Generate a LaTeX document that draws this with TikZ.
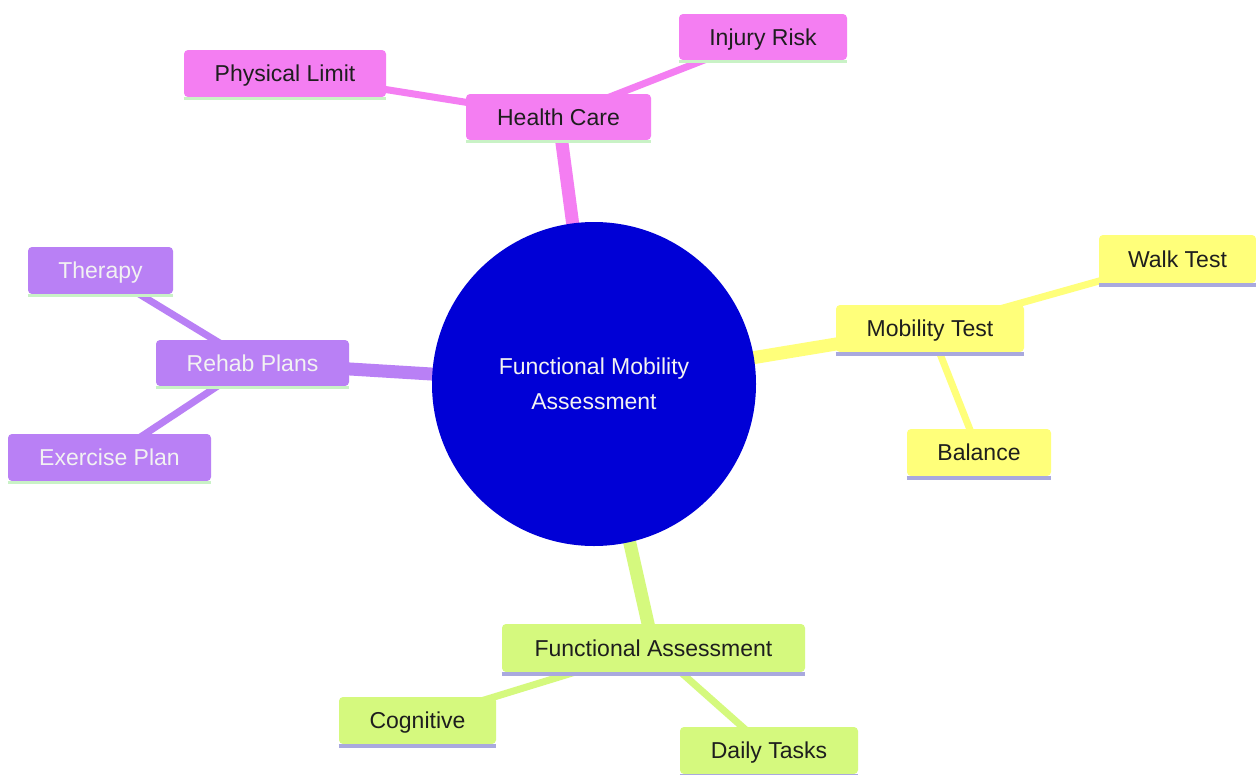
\documentclass[tikz,border=0pt]{standalone}
\usepackage{fontspec}
\setmainfont{Liberation Sans}
\definecolor{cpink}{HTML}{F47EF2}
\definecolor{cpurple}{HTML}{B980F5}
\definecolor{cyellow}{HTML}{FFFF7A}
\definecolor{cgreen}{HTML}{D5F97E}
\definecolor{croot}{HTML}{0000D6}
\definecolor{ulgreen}{HTML}{C9F2C6}
\definecolor{ulpurple}{HTML}{A9A9DE}
\definecolor{darktext}{HTML}{1E1E1E}
\definecolor{lighttext}{HTML}{F2F2F2}
\begin{document}
\begin{tikzpicture}[x=1pt,y=-1pt,
  box/.style={rectangle, rounded corners=4pt, inner sep=0pt, minimum height=47pt,
    text height=21.8pt, text depth=5pt,
    font=\fontsize{23}{28}\selectfont},
  pinkbox/.style={box, fill=cpink, text=darktext},
  purplebox/.style={box, fill=cpurple, text=lighttext},
  yellowbox/.style={box, fill=cyellow, text=darktext},
  greenbox/.style={box, fill=cgreen, text=darktext},
  mainedge/.style={line width=13pt},
  subedge/.style={line width=7pt},
  ulg/.style={draw=ulgreen, line width=3pt},
  ulp/.style={draw=ulpurple, line width=4pt},
]
\useasboundingbox (0,0) rectangle (1256,774);
\fill[white] (0,0) rectangle (1256,774);

% node centres
\coordinate (root) at (594,384);
\coordinate (chc) at (558.5,117);
\coordinate (cpl) at (285,73.5);
\coordinate (cir) at (763,37);
\coordinate (crp) at (252.5,363);
\coordinate (cth) at (100.5,270.5);
\coordinate (cep) at (109.5,457.5);
\coordinate (cmt) at (930,328.5);
\coordinate (cwt) at (1177.5,259);
\coordinate (cba) at (979,452.5);
\coordinate (cfa) at (653.5,648);
\coordinate (cco) at (417.5,720.5);
\coordinate (cdt) at (769,750.5);

% edges
\draw[mainedge, cpink] (root) -- (chc);
\draw[mainedge, cpurple] (root) -- (crp);
\draw[mainedge, cyellow] (root) -- (cmt);
\draw[mainedge, cgreen] (root) -- (cfa);
\draw[subedge, cpink] (chc) -- (cpl);
\draw[subedge, cpink] (chc) -- (cir);
\draw[subedge, cpurple] (crp) -- (cth);
\draw[subedge, cpurple] (crp) -- (cep);
\draw[subedge, cyellow] (cmt) -- (cwt);
\draw[subedge, cyellow] (cmt) -- (cba);
\draw[subedge, cgreen] (cfa) -- (cco);
\draw[subedge, cgreen] (cfa) -- (cdt);

% root
\node[circle, fill=croot, minimum size=324pt, inner sep=0pt, text=lighttext,
  align=center, font=\fontsize{23}{35}\selectfont] (r) at (root)
  {Functional Mobility\\Assessment};

% boxes
\node[pinkbox, minimum width=185pt, minimum height=46pt] (hc) at (chc) {Health Care};
\node[pinkbox, minimum width=202pt] (pl) at (cpl) {Physical Limit};
\node[pinkbox, minimum width=168pt, minimum height=46pt] (ir) at (cir) {Injury Risk};
\node[purplebox, minimum width=193pt, minimum height=46pt] (rp) at (crp) {Rehab Plans};
\node[purplebox, minimum width=145pt] (th) at (cth) {Therapy};
\node[purplebox, minimum width=203pt] (ep) at (cep) {Exercise Plan};
\node[yellowbox, minimum width=188pt] (mt) at (cmt) {Mobility Test};
\node[yellowbox, minimum width=157pt, minimum height=48pt] (wt) at (cwt) {Walk Test};
\node[yellowbox, minimum width=144pt] (ba) at (cba) {Balance};
\node[greenbox, minimum width=303pt, minimum height=48pt] (fa) at (cfa) {Functional Assessment};
\node[greenbox, minimum width=157pt] (co) at (cco) {Cognitive};
\node[greenbox, minimum width=178pt] (dt) at (cdt) {Daily Tasks};

% underlines
\foreach \n in {hc,pl,ir,rp,th,ep}
  \draw[ulg] ([yshift=-1.5pt]\n.south west) -- ([yshift=-1.5pt]\n.south east);
\foreach \n in {mt,wt,ba,fa,co,dt}
  \draw[ulp] ([yshift=-2pt]\n.south west) -- ([yshift=-2pt]\n.south east);
\end{tikzpicture}
\end{document}
